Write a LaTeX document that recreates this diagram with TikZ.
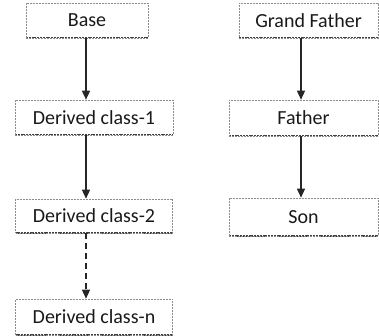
\documentclass[tikz,border=0pt]{standalone}
\usepackage{fontspec}
\setmainfont{Carlito}
\usetikzlibrary{arrows.meta,positioning}

\begin{document}
\begin{tikzpicture}[x=1pt, y=-1pt,
    classbox/.style={draw=black!45, dash pattern=on 2pt off 1pt, line width=0.6pt,
        inner sep=0pt, minimum height=35pt, font=\fontsize{20}{24}\selectfont, text=black!90,
        path picture={\draw[black!75, line width=1.6pt, dash pattern=on 2pt off 0.8pt]
            (path picture bounding box.south west) -- (path picture bounding box.south east);}},
    inherit/.style={-{Triangle[width=8pt,length=9pt]}, line width=1.3pt, black!85}]
        \useasboundingbox (0, 0) rectangle (379, 336);

        % single chain
        \node[classbox, minimum width=122pt] (base) at (87, 20.5) {Base};
        \node[classbox, minimum width=158pt] (dcone) at (94, 117.5) {Derived class-1};
        \node[classbox, minimum width=157pt, minimum height=34pt] (dctwo) at (94, 216) {Derived class-2};
        \node[classbox, minimum width=157pt, minimum height=36pt] (dcn) at (94, 317) {Derived class-n};

        \draw[inherit] (86, 0 |- base.south) -- (86, 0 |- dcone.north);
        \draw[inherit] (86, 0 |- dcone.south) -- (86, 0 |- dctwo.north);
        \draw[inherit, dash pattern=on 6pt off 4pt] (86, 0 |- dctwo.south) -- (86, 0 |- dcn.north);

        % multilevel chain
        \node[classbox, minimum width=139pt] (grandfather) at (308.5, 20.5) {Grand Father};
        \node[classbox, minimum width=149pt, minimum height=36pt] (father) at (303.5, 118) {Father};
        \node[classbox, minimum width=149pt, minimum height=38pt] (son) at (303.5, 217) {Son};

        \draw[inherit] (301, 0 |- grandfather.south) -- (301, 0 |- father.north);
        \draw[inherit] (301, 0 |- father.south) -- (301, 0 |- son.north);
    \end{tikzpicture}
\end{document}
